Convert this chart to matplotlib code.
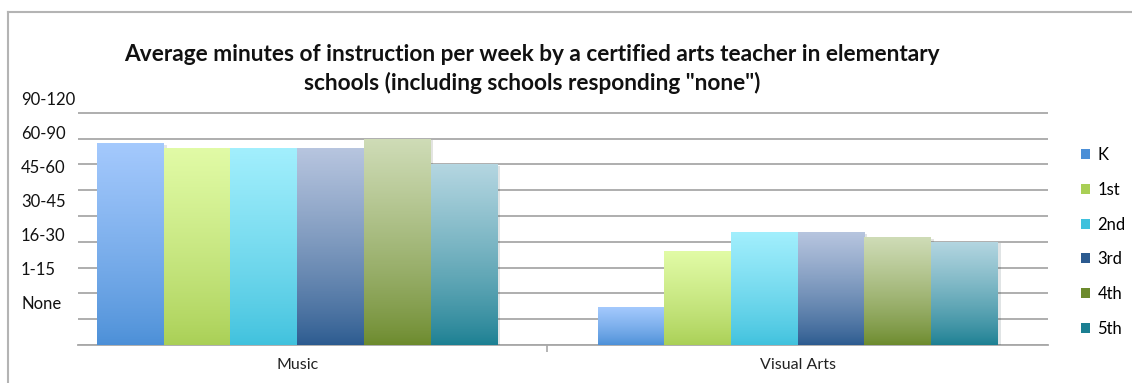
import numpy as np
import matplotlib
matplotlib.use("Agg")
import matplotlib.pyplot as plt
from matplotlib.colors import LinearSegmentedColormap
from matplotlib.patches import Patch
from matplotlib.lines import Line2D
import matplotlib.patheffects as pe

plt.rcParams['font.family'] = ['Lato', 'DejaVu Sans']

# subjects on the x axis, grades as the series
subjects = ["Music", "Visual Arts"]
grades = ["K", "1st", "2nd", "3rd", "4th", "5th"]
scores = {
    "K":   [7.82, 1.47],
    "1st": [7.62, 3.64],
    "2nd": [7.62, 4.37],
    "3rd": [7.62, 4.37],
    "4th": [8.00, 4.17],
    "5th": [7.00, 4.00],
}
time_bands = ["None", "1-15", "16-30", "30-45", "45-60", "60-90", "90-120"]

# gradient colours (top, bottom) for each grade
shades = {
    "K":   ("#a4c9fd", "#4b8fd7"),
    "1st": ("#e1fba6", "#a9cf55"),
    "2nd": ("#a2effd", "#3fc1dd"),
    "3rd": ("#b7c5df", "#2b5a8f"),
    "4th": ("#cfdcb7", "#6c8a2c"),
    "5th": ("#b4d6e1", "#1b7f92"),
}

fig = plt.figure(figsize=(11.32, 3.83), dpi=100)
ax = fig.add_axes([0.0689, 0.0992, 0.8569, 0.6736])

x = np.arange(len(subjects))
w = 0.8 / len(grades)
for i, g in enumerate(grades):
    top, bottom = shades[g]
    cmap = LinearSegmentedColormap.from_list(g, [bottom, top])
    bars = ax.bar(x - 0.4 + w * (i + 0.5), scores[g], width=w, color=bottom,
                  zorder=3, linewidth=0,
                  path_effects=[pe.SimplePatchShadow(offset=(2, -1), alpha=0.12),
                                pe.Normal()])
    for b in bars:
        x0, y0 = b.get_x(), b.get_y()
        h = b.get_height()
        grad = np.linspace(0, 1, 256).reshape(-1, 1) ** 0.8
        im = ax.imshow(grad, cmap=cmap, aspect='auto', origin='lower',
                       extent=[x0, x0 + b.get_width(), y0, y0 + h], zorder=4)
        im.set_clip_path(b)

ax.set_xlim(-0.438, 1.5)
ax.set_ylim(0, 10)

# gridlines on whole units
ax.set_yticks(np.arange(0, 10))
ax.yaxis.grid(True, color="#a8a8a8", linewidth=1.3, zorder=0)
ax.tick_params(axis='y', which='major', length=0, labelleft=False)

# time bands as labels between gridlines
band_pos = [1.63, 2.95, 4.27, 5.59, 6.91, 8.24, 9.57]
ax.set_yticks(band_pos, labels=time_bands, minor=True)
ax.tick_params(axis='y', which='minor', length=0, pad=41, labelsize=12,
               labelcolor="#111111")
for lab in ax.get_yticklabels(minor=True):
    lab.set_horizontalalignment('left')

ax.set_xticks(x, labels=subjects)
ax.set_xticks([0.5], minor=True)
ax.tick_params(axis='x', which='major', length=0, pad=9, labelsize=11.5,
               labelcolor="#222222")
ax.tick_params(axis='x', which='minor', length=5, width=1.2, color="#a8a8a8")

for s in ['top', 'right', 'left']:
    ax.spines[s].set_visible(False)
ax.spines['bottom'].set_color("#a8a8a8")
ax.spines['bottom'].set_linewidth(1.3)
ax.set_axisbelow(True)

handles = [Patch(facecolor=shades[g][1], edgecolor='none', label=g) for g in grades]
fig.legend(handles=handles, loc='upper left', bbox_to_anchor=(0.9475, 0.637),
           frameon=False, fontsize=12, handlelength=0.55, handleheight=0.55,
           handletextpad=0.45, labelspacing=1.12, borderpad=0)

fig.text(0.47, 0.82,
         "Average minutes of instruction per week by a certified arts teacher in elementary\n"
         "schools (including schools responding \"none\")",
         ha='center', va='center', fontsize=16.3, fontweight='bold',
         linespacing=1.35, color="#111111")

# outer chart border
fig.add_artist(Line2D([8 / 1132, 8 / 1132], [0, 1 - 12 / 383],
                      color="#b4b4b4", linewidth=1.5))
fig.add_artist(Line2D([8 / 1132, 1], [1 - 12 / 383, 1 - 12 / 383],
                      color="#b4b4b4", linewidth=1.5))

fig.savefig("out.png", dpi=100)
